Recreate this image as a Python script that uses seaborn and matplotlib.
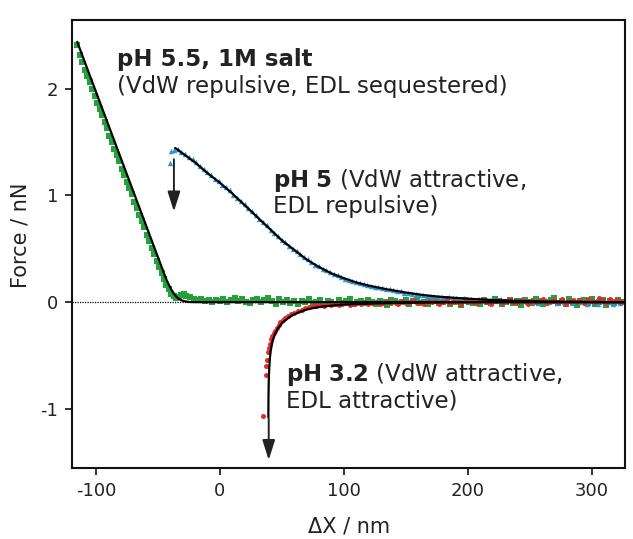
import numpy as np
import pandas as pd
import matplotlib
matplotlib.use("Agg")
import matplotlib.pyplot as plt
import seaborn as sns

# ---- data (force curves, nN vs nm) ----
# pH 5.5, 1M salt (green squares): steep part sampled every 2 nm, flat part every 3 nm
green_x_steep = np.arange(-115, -26, 2)
green_f_steep = [2.41, 2.32, 2.25, 2.18, 2.12, 2.06, 2.00, 1.93, 1.87, 1.81,
                 1.75, 1.69, 1.63, 1.56, 1.50, 1.44, 1.38, 1.32, 1.25, 1.19,
                 1.13, 1.07, 1.01, 0.94, 0.88, 0.82, 0.76, 0.70, 0.63, 0.57,
                 0.51, 0.45, 0.39, 0.33, 0.27, 0.22, 0.16, 0.12, 0.08, 0.06,
                 0.04, 0.05, 0.07, 0.08, 0.06]
green_x_flat = np.arange(-24, 325, 3)
green_f_flat = [0.05, 0.03, 0.02, 0.03, 0.01, 0.02, 0.00, 0.02, 0.01, 0.03,
                0.00, 0.02, 0.04, 0.01, 0.03, 0.00, -0.01, 0.02, 0.03, 0.00,
                0.02, 0.04, 0.01, -0.02, 0.03, 0.00, 0.02, -0.01, 0.01, -0.02,
                0.01, 0.00, 0.03, -0.01, 0.00, 0.02, -0.03, 0.01, 0.00, -0.02,
                0.02, -0.01, 0.01, 0.03, -0.02, 0.00, 0.01, -0.01, 0.02, 0.00,
                -0.02, 0.01, 0.00, -0.03, 0.02, 0.01, -0.01, 0.00, 0.02, -0.02,
                0.01, 0.03, -0.01, 0.00, -0.02, 0.01, 0.02, -0.01, 0.00, 0.03,
                -0.02, 0.00, 0.01, -0.03, 0.02, 0.00, -0.01, 0.01, -0.02, 0.02,
                0.00, -0.01, 0.03, 0.01, -0.02, 0.00, 0.02, -0.01, 0.01, -0.03,
                0.02, 0.00, -0.01, 0.03, 0.01, -0.02, 0.00, 0.02, 0.04, -0.01,
                0.01, -0.02, 0.03, 0.00, -0.03, 0.01, 0.02, -0.01, 0.03, -0.02,
                0.00, 0.02, -0.03, 0.01, -0.01, 0.02, 0.00]
green_fit_x = [-115, -45, -43, -41, -39, -37, -35, -33, -31, -29, -27, -24, -20, 326]
green_fit_f = [2.44, 0.27, 0.21, 0.16, 0.115, 0.08, 0.05, 0.03, 0.018, 0.01, 0.005, 0.001, 0.0, 0.0]

# pH 5 (blue triangles), every 3 nm after the jump-in
blue_x = np.arange(-37, 324, 3)
blue_f = [1.43, 1.44, 1.41, 1.39, 1.36, 1.34, 1.31, 1.28, 1.25, 1.22,
          1.19, 1.15, 1.14, 1.10, 1.08, 1.05, 1.00, 0.98, 0.95, 0.92,
          0.88, 0.85, 0.82, 0.78, 0.75, 0.72, 0.68, 0.65, 0.62, 0.58,
          0.56, 0.53, 0.50, 0.48, 0.45, 0.42, 0.40, 0.38, 0.35, 0.34,
          0.31, 0.30, 0.28, 0.26, 0.25, 0.24, 0.22, 0.21, 0.20, 0.19,
          0.18, 0.17, 0.16, 0.15, 0.14, 0.14, 0.13, 0.12, 0.12, 0.11,
          0.10, 0.10, 0.09, 0.09, 0.08, 0.08, 0.07, 0.07, 0.06, 0.06,
          0.05, 0.05, 0.05, 0.04, 0.05, 0.04, 0.04, 0.03, 0.04, 0.03,
          0.03, 0.02, 0.03, 0.02, 0.03, 0.02, 0.02, 0.01, 0.03, 0.01,
          0.02, 0.01, 0.00, 0.02, 0.01, 0.00, 0.02, 0.01, -0.01, 0.01,
          0.02, 0.00, 0.01, -0.01, 0.02, 0.00, 0.01, -0.01, 0.02, 0.00,
          0.01, -0.02, 0.01, 0.00, -0.02, 0.01, -0.01, 0.00, -0.02, 0.01,
          -0.01]
blue_jump_x = [-40, -39]
blue_jump_f = [1.30, 1.42]
blue_fit_x = [-36, -30, -20, -10, 0, 10, 20, 30, 40, 50, 60, 70, 80, 90, 100, 110,
              120, 135, 150, 165, 180, 200, 220, 240, 260, 280, 300, 325]
blue_fit_f = [1.445, 1.395, 1.31, 1.21, 1.12, 1.02, 0.91, 0.80, 0.69, 0.58, 0.49, 0.40,
              0.33, 0.27, 0.225, 0.185, 0.155, 0.12, 0.09, 0.065, 0.048, 0.032, 0.020,
              0.012, 0.007, 0.004, 0.002, 0.0]

# pH 3.2 (red circles)
red_x_steep = [35.2, 37.0, 37.6, 38.2, 39.0, 39.8, 40.5, 41.5, 42.5, 43.5, 44.5, 46.0, 47.5,
               49.0, 51.0, 53.0, 55.0, 57.5, 60.0, 63.0, 66.0, 69.0, 72.0, 75.0, 78.0]
red_f_steep = [-1.07, -0.68, -0.60, -0.54, -0.47, -0.43, -0.39, -0.35, -0.32, -0.29, -0.27,
               -0.24, -0.21, -0.19, -0.17, -0.15, -0.13, -0.115, -0.10, -0.085, -0.07,
               -0.055, -0.05, -0.04, -0.035]
red_x_flat = np.arange(81, 325, 3)
red_f_flat = [-0.03, -0.04, -0.02, -0.03, -0.01, -0.03, -0.02, -0.01, -0.03, -0.02,
              -0.01, -0.02, 0.00, -0.02, -0.01, 0.00, -0.02, -0.01, 0.01, -0.01,
              0.00, -0.02, 0.01, -0.01, 0.00, 0.02, -0.01, 0.00, -0.02, 0.01,
              0.00, 0.01, -0.02, 0.00, 0.02, -0.01, 0.01, 0.00, -0.02, 0.01,
              0.02, 0.00, -0.01, 0.01, 0.03, 0.00, -0.02, 0.01, 0.02, -0.01,
              0.01, 0.03, 0.00, -0.01, 0.02, 0.01, -0.02, 0.02, 0.00, 0.01,
              0.03, -0.01, 0.01, 0.02, 0.00, 0.03, -0.02, 0.01, 0.02, 0.00,
              0.02, -0.01, 0.03, 0.01, 0.00, 0.04, 0.02, -0.01, 0.03, 0.01,
              0.02, 0.00]
red_fit_x = [39.2, 39.3, 39.5, 39.9, 40.5, 41.2, 42.5, 44.5, 47, 50, 54, 59, 64, 70, 77,
             84, 97, 114, 140, 170, 210, 326]
red_fit_f = [-1.08, -0.90, -0.75, -0.62, -0.52, -0.45, -0.37, -0.30, -0.245, -0.20, -0.16,
             -0.12, -0.095, -0.07, -0.052, -0.04, -0.025, -0.016, -0.008, -0.003, 0.0, 0.0]

GREEN = "#25a13c"
BLUE = "#2e95d3"
RED = "#e42b2b"
INK = "#222222"

sns.set_theme(style="ticks")
plt.rcParams.update({
    "font.family": ["DejaVu Sans"],
    "axes.unicode_minus": False,
    "axes.linewidth": 1.5,
    "axes.edgecolor": "#111111",
    "xtick.labelsize": 13,
    "ytick.labelsize": 13,
    "xtick.color": INK,
    "ytick.color": INK,
    "axes.labelcolor": INK,
    "axes.labelsize": 15,
})

fig = plt.figure(figsize=(6.33, 5.39), dpi=100)
ax = fig.add_axes([0.1142, 0.1308, 0.8732, 0.8330])

ax.axhline(0, color="black", linestyle=(0, (1, 1)), linewidth=0.9, zorder=1)

green = pd.DataFrame({"x": np.concatenate([green_x_steep, green_x_flat]),
                      "f": green_f_steep + green_f_flat})
blue = pd.DataFrame({"x": np.concatenate([blue_jump_x, blue_x]),
                     "f": blue_jump_f + blue_f})
red = pd.DataFrame({"x": np.concatenate([red_x_steep, red_x_flat]),
                    "f": red_f_steep + red_f_flat})

sns.scatterplot(data=green, x="x", y="f", marker="s", s=13, color=GREEN,
                linewidth=0, ax=ax, zorder=2)
sns.scatterplot(data=blue, x="x", y="f", marker="^", s=15, color=BLUE,
                linewidth=0, ax=ax, zorder=2)
sns.scatterplot(data=red, x="x", y="f", marker="o", s=13, color=RED,
                linewidth=0, ax=ax, zorder=2)

for fx, ff in [(green_fit_x, green_fit_f), (blue_fit_x, blue_fit_f), (red_fit_x, red_fit_f)]:
    sns.lineplot(x=fx, y=ff, sort=False, estimator=None, color="black",
                 linewidth=1.6, ax=ax, zorder=3)

# jump arrows
arrow_kw = dict(arrowstyle="-|>,head_length=1.1,head_width=0.35", color=INK,
                lw=1.4, mutation_scale=11, shrinkA=0, shrinkB=0)
ax.annotate("", xy=(-37, 0.85), xytext=(-37, 1.34), arrowprops=arrow_kw, zorder=4)
ax.annotate("", xy=(39.5, -1.48), xytext=(39.5, -1.09), arrowprops=arrow_kw, zorder=4)

# annotations
fs = 16.5
ax.text(-82.8, 2.212, "pH 5.5, 1M salt", fontsize=fs, fontweight="bold", color=INK, va="baseline")
ax.text(-82.8, 1.963, "(VdW repulsive, EDL sequestered)", fontsize=fs, color=INK, va="baseline")
ax.text(43.0, 1.082, r"$\mathbf{pH\ 5}$ (VdW attractive,", fontsize=fs, color=INK, va="baseline")
ax.text(43.0, 0.838, "EDL repulsive)", fontsize=fs, color=INK, va="baseline")
ax.text(53.5, -0.743, r"$\mathbf{pH\ 3.2}$ (VdW attractive,", fontsize=fs, color=INK, va="baseline")
ax.text(53.5, -0.992, "EDL attractive)", fontsize=fs, color=INK, va="baseline")

ax.set_xlim(-119, 327)
ax.set_ylim(-1.56, 2.65)
ax.set_xticks([-100, 0, 100, 200, 300])
ax.set_yticks([-1, 0, 1, 2])
ax.tick_params(direction="out", length=5, width=1.3, pad=5)
ax.set_xlabel("ΔX / nm")
ax.set_ylabel("Force / nN")
ax.xaxis.set_label_coords(0.5, -0.108)
ax.yaxis.set_label_coords(-0.075, 0.52)

fig.savefig("out.png", dpi=100)
